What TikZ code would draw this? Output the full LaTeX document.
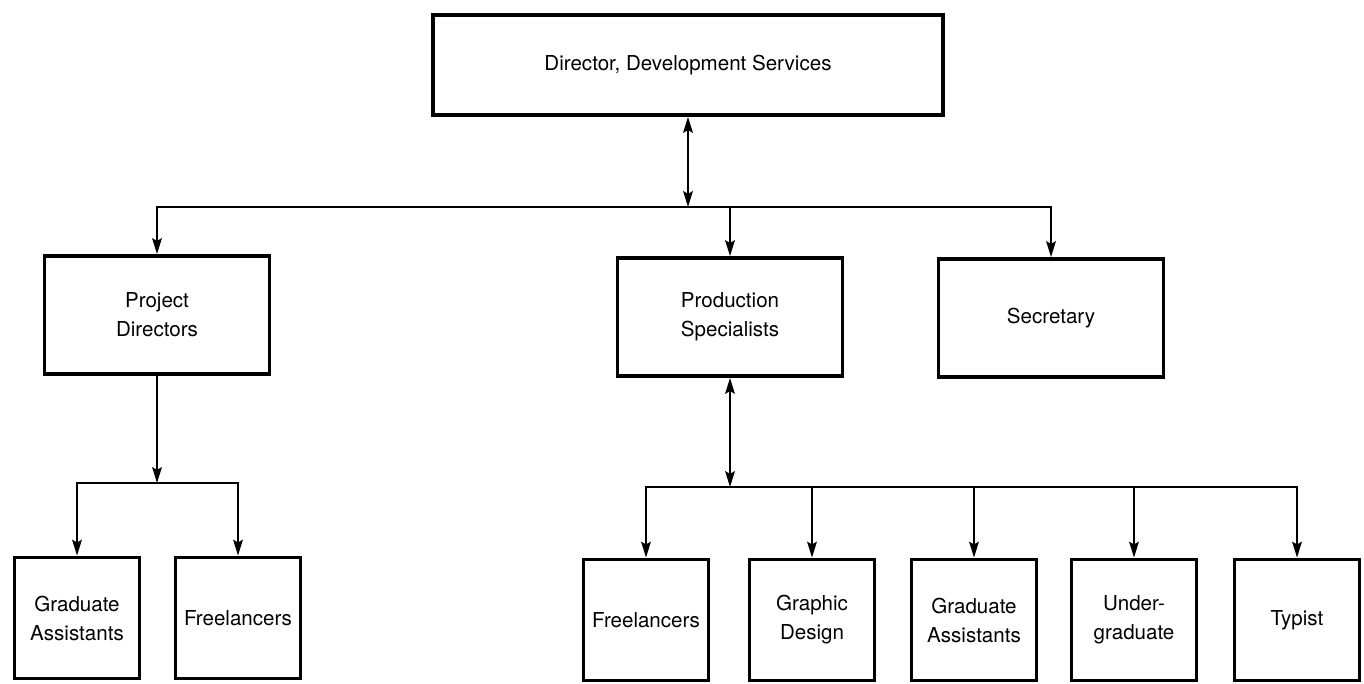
\documentclass[tikz,border=0pt]{standalone}
\usepackage{fontspec}
\setmainfont{TeX Gyre Heros}
\usetikzlibrary{arrows.meta}

\tikzset{
  unitbox/.style={draw, line width=2.2pt, align=center, inner sep=2pt,
    font=\fontsize{11.7}{16.5}\selectfont},
  headbox/.style={unitbox, minimum width=10.2cm, minimum height=2cm},
  staffbox/.style={unitbox, minimum width=4.5cm, minimum height=2.36cm},
  teambox/.style={unitbox, minimum width=2.5cm, minimum height=2.42cm},
  link/.style={line width=1.1pt},
}

\begin{document}
\begin{tikzpicture}[x=0.02cm,y=-0.02cm,>={Stealth[length=9pt,width=5.5pt,inset=1.5pt]}]
\useasboundingbox (0,0) rectangle (1364,683);
% boxes
\node[headbox] (dir) at (688,65) {Director, Development Services};
\node[staffbox] (pd) at (157,315) {Project\\Directors};
\node[staffbox] (ps) at (730,317) {Production\\Specialists};
\node[staffbox] (sec) at (1051,318) {Secretary};
\node[teambox] (ga1) at (77,618) {Graduate\\Assistants};
\node[teambox] (fl1) at (238,618) {Freelancers};
\node[teambox] (fl2) at (646,620) {Freelancers};
\node[teambox] (gd) at (812,620) {Graphic\\Design};
\node[teambox] (ga2) at (974,620) {Graduate\\Assistants};
\node[teambox] (ug) at (1134,620) {Under-\\graduate};
\node[teambox] (ty) at (1297,620) {Typist};
% bus lines
\coordinate (topbus) at (686,207);
\coordinate (pdbus) at (157,483);
\coordinate (psbus) at (730,487);
% connectors
\draw[link,<->] (dir.south) -- (dir.south |- topbus);
\draw[link,<->] (pd.north) -- (pd.north |- topbus) -- (sec.north |- topbus) -- (sec.north);
\draw[link,->] (ps.north |- topbus) -- (ps.north);
\draw[link,->] (pd.south) -- (pd.south |- pdbus);
\draw[link,<->] (ga1.north) -- (ga1.north |- pdbus) -- (fl1.north |- pdbus) -- (fl1.north);
\draw[link,<->] (ps.south) -- (ps.south |- psbus);
\draw[link,<->] (fl2.north) -- (fl2.north |- psbus) -- (ty.north |- psbus) -- (ty.north);
\foreach \n in {gd,ga2,ug}
  \draw[link,->] (\n.north |- psbus) -- (\n.north);
\end{tikzpicture}
\end{document}
